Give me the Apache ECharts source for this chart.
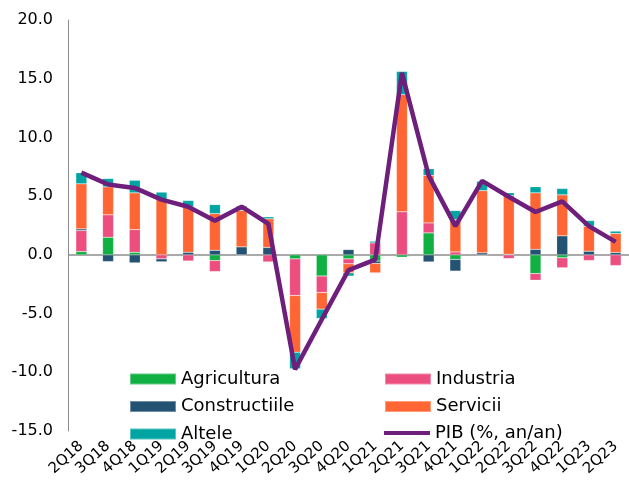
<!DOCTYPE html>
<html>
<head>
<meta charset="utf-8">
<script src="https://cdn.jsdelivr.net/npm/echarts@6/dist/echarts.min.js"></script>
<style>
html,body{margin:0;padding:0;background:#fff;}
#c{width:629px;height:491px;}
</style>
</head>
<body>
<div id="c"></div>
<script>
const categories = ['2Q18','3Q18','4Q18','1Q19','2Q19','3Q19','4Q19','1Q20','2Q20','3Q20','4Q20','1Q21','2Q21','3Q21','4Q21','1Q22','2Q22','3Q22','4Q22','1Q23','2Q23'];
const agricultura = [0.28, 1.5, 0.22, 0, 0, -0.48, 0, 0, -0.34, -1.8, -0.34, -0.53, -0.2, 1.87, -0.39, 0, 0, -1.59, -0.25, 0, 0];
const industria = [1.79, 1.91, 1.93, -0.34, -0.52, -0.94, 0, -0.6, -3.12, -1.41, -0.42, 1.02, 3.67, 0.85, 0.25, 0, -0.31, -0.57, -0.85, -0.48, -0.91];
const constructiile = [0.14, -0.57, -0.68, -0.25, 0.22, 0.39, 0.68, 0.63, 0, 0, 0.45, -0.2, 0, -0.6, -0.99, 0.17, 0.05, 0.47, 1.62, 0.31, 0.2];
const servicii = [3.84, 2.38, 3.13, 4.71, 3.87, 3.12, 3.1, 2.44, -4.83, -1.41, -0.77, -0.8, 9.97, 4.05, 2.75, 5.3, 4.99, 4.81, 3.49, 2.13, 1.62];
const altele = [0.94, 0.71, 1.07, 0.63, 0.54, 0.77, 0.37, 0.17, -1.41, -0.8, -0.28, 0.14, 1.98, 0.57, 0.77, 0.8, 0.25, 0.52, 0.54, 0.48, 0.2];
const pib = [7.0, 6.0, 5.7, 4.7, 4.1, 2.9, 4.1, 2.65, -9.75, -5.5, -1.3, -0.4, 15.5, 6.75, 2.45, 6.3, 4.95, 3.65, 4.55, 2.45, 1.1];
const yTicks = [-15, -10, -5, 0, 5, 10, 15, 20];

const FONT = 'DejaVu Sans';
const PIB_NAME = 'PIB (%, an/an)';
const colors = {
  Agricultura: '#10B043',
  Industria: '#EC4F7F',
  Constructiile: '#245273',
  Servicii: '#FF6633',
  Altele: '#00A5A3',
  PIB: '#6E1F7C'
};
function bar(name, data, extra) {
  return Object.assign({
    name: name, type: 'bar', stack: 'total', data: data, barWidth: 11,
    itemStyle: { color: colors[name], borderColor: 'rgba(255,255,255,0.35)', borderWidth: 0.5 },
    emphasis: { disabled: true }
  }, extra || {});
}
const legendText = { fontFamily: FONT, fontSize: 18, color: '#000', lineHeight: 18 };
const chart = echarts.init(document.getElementById('c'), null, { renderer: 'canvas' });
chart.setOption({
  animation: false,
  backgroundColor: '#ffffff',
  textStyle: { fontFamily: FONT },
  grid: { left: 68, right: -11, top: 20, bottom: 60, containLabel: false },
  legend: [
    {
      orient: 'vertical', left: 129, top: 370, itemWidth: 46, itemHeight: 11, itemGap: 9.5,
      icon: 'rect', data: ['Agricultura', 'Constructiile', 'Altele'],
      textStyle: legendText, padding: 0, selectedMode: false
    },
    {
      orient: 'vertical', left: 384, top: 370, itemWidth: 46, itemHeight: 11, itemGap: 9.5,
      icon: 'rect', data: ['Industria', 'Servicii'],
      textStyle: legendText, padding: 0, selectedMode: false
    },
    {
      orient: 'vertical', left: 384, top: 424, itemWidth: 46, itemHeight: 4,
      icon: 'rect', data: [PIB_NAME],
      textStyle: legendText, padding: 0, selectedMode: false
    }
  ],
  xAxis: {
    type: 'category', data: categories, boundaryGap: true,
    axisLine: { show: false }, axisTick: { show: false },
    axisLabel: { rotate: 42, fontFamily: FONT, fontSize: 15, color: '#000', margin: 13, interval: 0 }
  },
  yAxis: {
    type: 'value', min: yTicks[0], max: yTicks[yTicks.length - 1], interval: 5,
    axisLine: { show: true, lineStyle: { color: '#8c8c8c', width: 1 } },
    axisTick: { show: false }, splitLine: { show: false },
    axisLabel: { fontFamily: FONT, fontSize: 16, color: '#000', margin: 15, formatter: v => v.toFixed(1) }
  },
  series: [
    bar('Agricultura', agricultura, {
      markLine: {
        silent: true, symbol: 'none', label: { show: false },
        lineStyle: { color: '#8c8c8c', width: 1.5, type: 'solid' },
        data: [{ yAxis: 0 }], z: 1
      }
    }),
    bar('Industria', industria),
    bar('Constructiile', constructiile),
    bar('Servicii', servicii),
    bar('Altele', altele),
    {
      name: PIB_NAME, type: 'line', data: pib, symbol: 'none', showSymbol: false,
      lineStyle: { color: colors.PIB, width: 4.5 }, itemStyle: { color: colors.PIB },
      z: 5, emphasis: { disabled: true }
    }
  ]
});
</script>
</body>
</html>
